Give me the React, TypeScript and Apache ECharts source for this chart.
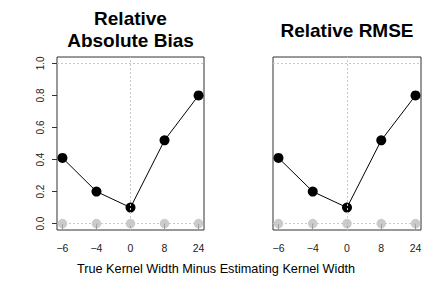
import React, { useEffect, useRef } from "react";
import * as echarts from "echarts";

const categories = ["\u22126", "\u22124", "0", "8", "24"];
const biasValues = [0.41, 0.2, 0.1, 0.52, 0.8];
const rmseValues = [0.41, 0.2, 0.1, 0.52, 0.8];
const zeroValues = [0, 0, 0, 0, 0];
const yTicks = [0, 0.2, 0.4, 0.6, 0.8, 1.0];
const titles = ["Relative\nAbsolute Bias", "Relative RMSE"];
const xTitle = "True Kernel Width Minus Estimating Kernel Width";

const FONT = '"Liberation Sans", Arial, Helvetica, sans-serif';

export default function App() {
  const ref = useRef<HTMLDivElement>(null);
  useEffect(() => {
    if (!ref.current) return;
    const chart = echarts.init(ref.current, null, { renderer: "svg" });
    const idx = categories.map((_, i) => i + 1);
    const grids = [
      { left: 57, top: 57, width: 147, height: 173 },
      { left: 273, top: 57, width: 148, height: 173 },
    ];
    const xAxes = grids.map((_, g) => ({
      type: "value",
      gridIndex: g,
      min: 0.84,
      max: 5.16,
      axisLine: { show: false },
      splitLine: { show: false },
      axisTick: { show: true, length: 5, customValues: idx, lineStyle: { color: "#333" } },
      axisLabel: {
        show: true,
        customValues: idx,
        margin: 12,
        fontSize: 10.5,
        fontFamily: FONT,
        color: "#222",
        formatter: (v: number) => categories[Math.round(v) - 1] ?? "",
      },
    }));
    const yAxes = grids.map((_, g) => ({
      type: "value",
      gridIndex: g,
      min: -0.04,
      max: 1.04,
      axisLine: { show: false },
      splitLine: { show: false },
      axisTick: { show: g === 0, length: 5, customValues: yTicks, lineStyle: { color: "#333" } },
      axisLabel: {
        show: g === 0,
        customValues: yTicks,
        rotate: 90,
        margin: 12,
        fontSize: 10,
        fontFamily: FONT,
        color: "#222",
        formatter: (v: number) => v.toFixed(1),
      },
    }));
    const dotted = { color: "#c8c8c8", width: 1, type: [2, 2] as number[] };
    const series: any[] = [];
    [biasValues, rmseValues].forEach((vals, g) => {
      series.push({
        type: "line",
        xAxisIndex: g,
        yAxisIndex: g,
        data: [],
        silent: true,
        markLine: {
          silent: true,
          symbol: "none",
          label: { show: false },
          lineStyle: dotted,
          data: [{ yAxis: 0 }, { yAxis: 1 }, { xAxis: 3 }],
        },
      });
      series.push({
        type: "scatter",
        xAxisIndex: g,
        yAxisIndex: g,
        symbol: "circle",
        symbolSize: 9.5,
        itemStyle: { color: "#bebebe" },
        data: zeroValues.map((v, i) => [idx[i], v]),
      });
      series.push({
        type: "line",
        xAxisIndex: g,
        yAxisIndex: g,
        symbol: "circle",
        symbolSize: 10,
        showSymbol: true,
        itemStyle: { color: "#000" },
        lineStyle: { color: "#000", width: 1 },
        data: vals.map((v, i) => [idx[i], v]),
      });
    });
    chart.setOption({
      animation: false,
      backgroundColor: "#fff",
      grid: grids.map((g) => ({ ...g, show: true, borderColor: "#333", borderWidth: 1, backgroundColor: "transparent" })),
      xAxis: xAxes,
      yAxis: yAxes,
      series,
      graphic: [
        {
          type: "text",
          x: 130.5,
          y: 29,
          style: {
            text: titles[0],
            textAlign: "center",
            textVerticalAlign: "middle",
            font: `bold 19px ${FONT}`,
            lineHeight: 22,
            fill: "#000",
          },
        },
        {
          type: "text",
          x: 347,
          y: 30,
          style: {
            text: titles[1],
            textAlign: "center",
            textVerticalAlign: "middle",
            font: `bold 19px ${FONT}`,
            fill: "#000",
          },
        },
        {
          type: "text",
          x: 216,
          y: 269,
          style: {
            text: xTitle,
            textAlign: "center",
            textVerticalAlign: "middle",
            font: `12.7px ${FONT}`,
            fill: "#000",
          },
        },
      ],
    });
    return () => chart.dispose();
  }, []);
  return <div ref={ref} style={{ width: 432, height: 288, position: "absolute", left: 0, top: 0 }} />;
}
